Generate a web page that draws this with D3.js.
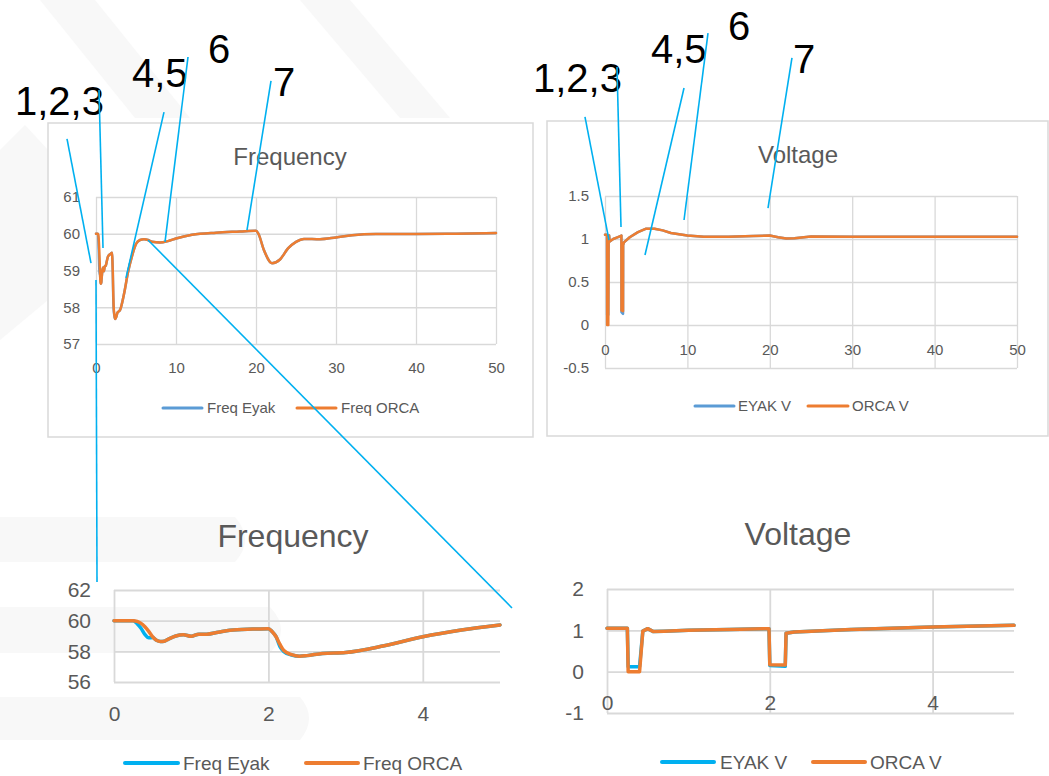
<!DOCTYPE html>
<html><head><meta charset="utf-8">
<script src="https://cdn.jsdelivr.net/npm/d3@7"></script>
<style>
html,body{margin:0;padding:0;background:#fff;}
svg{display:block;font-family:"Liberation Sans",Arial,sans-serif;}
</style></head>
<body>
<svg id="c" width="1049" height="776"></svg>
<script>
// ---------------- DATA ----------------
const freqTime = [0, 0.25, 0.3, 0.35, 0.4, 0.45, 0.5, 0.55, 0.6, 0.65, 0.7, 0.8, 0.9, 1.0, 1.1, 1.2, 1.35, 1.5, 1.8, 2.0, 2.05, 2.1, 2.15, 2.2, 2.3, 2.4, 2.5, 2.7, 3.0, 3.5, 4.0, 4.5, 5.0, 5.5, 6.0, 6.5, 7, 8, 9, 10, 12, 15, 18, 20, 20.3, 21, 22, 23, 24, 25, 26, 28, 30, 32, 35, 40, 45, 50];
const freqOrca = [60.0, 60.0, 59.95, 59.82, 59.6, 59.3, 58.95, 58.72, 58.64, 58.66, 58.78, 59.0, 59.08, 58.98, 59.12, 59.12, 59.25, 59.38, 59.45, 59.48, 59.28, 58.95, 58.45, 58.05, 57.78, 57.68, 57.72, 57.86, 57.92, 58.36, 58.95, 59.39, 59.72, 59.83, 59.85, 59.83, 59.78, 59.76, 59.8, 59.87, 59.97, 60.03, 60.06, 60.08, 60.0, 59.55, 59.2, 59.3, 59.6, 59.78, 59.86, 59.85, 59.9, 59.96, 59.99, 59.99, 60.0, 60.02];
const freqEyak = [60.0, 60.0, 59.8, 59.5, 59.1, 58.88, 58.9, 58.72, 58.64, 58.66, 58.78, 59.0, 59.08, 58.98, 59.12, 59.12, 59.25, 59.38, 59.45, 59.48, 59.28, 58.95, 58.3, 57.98, 57.76, 57.68, 57.72, 57.86, 57.92, 58.36, 58.95, 59.39, 59.72, 59.83, 59.85, 59.83, 59.78, 59.76, 59.8, 59.87, 59.97, 60.03, 60.06, 60.08, 60.0, 59.55, 59.2, 59.3, 59.6, 59.78, 59.86, 59.85, 59.9, 59.96, 59.99, 59.99, 60.0, 60.02];

const voltTime = [0, 0.25, 0.26, 0.4, 0.44, 0.5, 0.57, 0.7, 1.0, 1.5, 1.99, 2.0, 2.19, 2.2, 2.3, 3.0, 4.0, 5.0, 6.0, 7, 8, 10, 12, 15, 18, 20, 21, 22, 23, 25, 30, 40, 50];
const voltOrca = [1.05, 1.05, 0.0, 0.0, 0.98, 1.04, 0.97, 0.98, 1.0, 1.02, 1.04, 0.17, 0.16, 0.93, 0.96, 1.02, 1.08, 1.12, 1.12, 1.1, 1.07, 1.04, 1.025, 1.025, 1.035, 1.04, 1.02, 1.005, 1.01, 1.03, 1.025, 1.025, 1.025];
const voltEyak = [1.05, 1.05, 0.12, 0.12, 0.98, 1.04, 0.97, 0.98, 1.0, 1.02, 1.04, 0.15, 0.13, 0.93, 0.96, 1.02, 1.08, 1.12, 1.12, 1.1, 1.07, 1.04, 1.025, 1.025, 1.035, 1.04, 1.02, 1.005, 1.01, 1.03, 1.025, 1.025, 1.025];

const fullXTicks = [0, 10, 20, 30, 40, 50];
const zoomXTicks = [0, 2, 4];
const fullFreqTicks = [57, 58, 59, 60, 61];
const zoomFreqTicks = [56, 58, 60, 62];
const fullVoltTicks = [-0.5, 0, 0.5, 1, 1.5];
const zoomVoltTicks = [-1, 0, 1, 2];
const freqSeriesNames = ["Freq Eyak", "Freq ORCA"];
const voltSeriesNames = ["EYAK V", "ORCA V"];

// annotation callouts, in data coordinates of the chart they sit on
const annFreqLines = [[-3.625, 62.58, -0.625, 59.20], [0.375, 63.91, 0.875, 59.61], [8.5, 63.31, 3.75, 58.80], [11.5, 64.81, 8.625, 59.78], [21.875, 64.16, 18.875, 60.10]];
const annFreqLabels = [["1,2,3", -10.125, 63.23], ["4,5", 4.5, 63.99], ["6", 14, 64.65], ["7", 22.125, 63.75]];
const annVoltLines = [[-2.43, 2.419, 0.485, 0.988], [1.456, 3.0, 1.942, 1.14], [9.59, 2.756, 4.854, 0.814], [12.5, 3.395, 9.59, 1.221], [22.69, 3.105, 19.78, 1.36]];
const annVoltLabels = [["1,2,3", -8.74, 2.709], ["4,5", 5.58, 3.047], ["6", 14.93, 3.314], ["7", 22.82, 2.93]];

// ---------------- DRAW ----------------
const svg = d3.select("#c");
const BLUE_XL = "#5b9bd5", ORANGE = "#ed7d31", CYAN = "#00b0f0", GRID = "#d9d9d9", TXT = "#595959";
const fmt = d => String(d);

// faint background watermark
const wm = svg.append("g").attr("fill", "#f8f8f8");
[
 "M40,0 L95,0 L190,118 L135,118 Z",
 "M300,0 L350,0 L450,118 L400,118 Z",
 "M0,150 L25,125 L48,150 L48,300 L0,340 Z",
 "M0,517 L235,517 Q255,540 235,562 L0,562 Z",
 "M0,607 L270,607 Q292,630 270,653 L0,653 Z",
 "M0,697 L300,697 Q318,718 300,740 L0,740 Z"
].forEach(p => wm.append("path").attr("d", p));

function chart(opt) {
  const g = svg.append("g");
  const x = d3.scaleLinear().domain(opt.xd).range(opt.xr);
  const y = d3.scaleLinear().domain(opt.yd).range(opt.yr);
  if (opt.box) g.append("rect").attr("x", opt.box[0]).attr("y", opt.box[1]).attr("width", opt.box[2]).attr("height", opt.box[3]).attr("fill", "#fff").attr("stroke", GRID).attr("stroke-width", 1.5);
  // gridlines
  g.append("g").attr("transform", `translate(${opt.xr[0]},0)`)
    .call(d3.axisLeft(y).tickValues(opt.yt).tickSize(-(opt.xr[1] - opt.xr[0])).tickFormat(""))
    .call(a => a.select(".domain").remove())
    .call(a => a.selectAll("line").attr("stroke", GRID).attr("stroke-width", opt.gw));
  g.append("g").attr("transform", `translate(0,${opt.yr[0]})`)
    .call(d3.axisBottom(x).tickValues(opt.xt).tickSize(-(opt.yr[0] - opt.yr[1])).tickFormat(""))
    .call(a => a.select(".domain").remove())
    .call(a => a.selectAll("line").attr("stroke", GRID).attr("stroke-width", opt.gw));
  // labels
  g.append("g").attr("transform", `translate(${opt.xr[0]},0)`)
    .call(d3.axisLeft(y).tickValues(opt.yt).tickSize(0).tickPadding(opt.yp).tickFormat(fmt))
    .call(a => a.select(".domain").remove())
    .call(a => a.selectAll("text").attr("fill", TXT).attr("font-size", opt.fs).attr("font-family", "Liberation Sans, Arial, sans-serif"));
  g.append("g").attr("transform", `translate(0,${y(opt.xAxisAt)})`)
    .call(d3.axisBottom(x).tickValues(opt.xt).tickSize(0).tickPadding(opt.xp).tickFormat(fmt))
    .call(a => a.select(".domain").remove())
    .call(a => a.selectAll("text").attr("fill", TXT).attr("font-size", opt.fs).attr("font-family", "Liberation Sans, Arial, sans-serif"));
  // title
  g.append("text").attr("x", opt.title[1]).attr("y", opt.title[2]).attr("text-anchor", "middle")
    .attr("fill", TXT).attr("font-size", opt.title[3]).text(opt.title[0]);
  // series
  const xmax = opt.xd[1];
  opt.series.forEach((s, i) => {
    const pts = opt.t.map((t, k) => [t, s.v[k]]).filter(p => p[0] <= xmax);
    g.append("path").datum(pts)
      .attr("fill", "none").attr("stroke", s.c).attr("stroke-width", opt.lw)
      .attr("stroke-linejoin", "round").attr("stroke-linecap", "round")
      .attr("d", d3.line().x(p => x(p[0])).y(p => y(p[1])).curve(opt.curve));
  });
  // legend
  opt.series.forEach((s, i) => {
    const L = opt.legend[i];
    g.append("line").attr("x1", L[0]).attr("x2", L[1]).attr("y1", opt.legendY).attr("y2", opt.legendY)
      .attr("stroke", s.c).attr("stroke-width", opt.lw + 0.5).attr("stroke-linecap", "round");
    g.append("text").attr("x", L[2]).attr("y", opt.legendY).attr("dy", "0.35em")
      .attr("fill", TXT).attr("font-size", opt.lfs).text(s.name);
  });
  return {x, y};
}

const tl = chart({
  box: [48, 123, 485, 314], xd: [0, 50], xr: [96, 496], yd: [57, 61], yr: [344, 197],
  xt: fullXTicks, yt: fullFreqTicks, gw: 1.3, yp: 16, xp: 18, xAxisAt: 57, fs: 15,
  title: ["Frequency", 290, 165, 24], t: freqTime, lw: 2.5, curve: d3.curveMonotoneX,
  series: [{name: freqSeriesNames[0], v: freqEyak, c: BLUE_XL}, {name: freqSeriesNames[1], v: freqOrca, c: ORANGE}],
  legend: [[163, 202, 207], [297, 336, 341]], legendY: 408, lfs: 15
});
const tr = chart({
  box: [547, 121, 501, 315], xd: [0, 50], xr: [605, 1017], yd: [-0.5, 1.5], yr: [368, 196],
  xt: fullXTicks, yt: fullVoltTicks, gw: 1.3, yp: 16, xp: 19, xAxisAt: 0, fs: 15,
  title: ["Voltage", 798, 163, 24], t: voltTime, lw: 2.5, curve: d3.curveLinear,
  series: [{name: voltSeriesNames[0], v: voltEyak, c: BLUE_XL}, {name: voltSeriesNames[1], v: voltOrca, c: ORANGE}],
  legend: [[695, 734, 738], [808, 848, 852]], legendY: 406, lfs: 15
});
const bl = chart({
  xd: [0, 5], xr: [114, 500], yd: [56, 62], yr: [682, 590],
  xt: zoomXTicks, yt: zoomFreqTicks, gw: 1.8, yp: 23, xp: 24, xAxisAt: 56, fs: 21,
  title: ["Frequency", 293, 547, 32], t: freqTime, lw: 3.5, curve: d3.curveMonotoneX,
  series: [{name: freqSeriesNames[0], v: freqEyak, c: CYAN}, {name: freqSeriesNames[1], v: freqOrca, c: ORANGE}],
  legend: [[125, 178, 183], [306, 358, 363]], legendY: 763, lfs: 19
});
const br = chart({
  xd: [0, 5], xr: [607, 1014], yd: [-1, 2], yr: [713, 589],
  xt: zoomXTicks, yt: zoomVoltTicks, gw: 1.8, yp: 23, xp: 23, xAxisAt: 0, fs: 21,
  title: ["Voltage", 798, 545, 32], t: voltTime, lw: 3.5, curve: d3.curveLinear,
  series: [{name: voltSeriesNames[0], v: voltEyak, c: CYAN}, {name: voltSeriesNames[1], v: voltOrca, c: ORANGE}],
  legend: [[662, 714, 720], [813, 865, 870]], legendY: 762, lfs: 19
});

// annotations
const ann = svg.append("g");
function annLines(lines, c) {
  ann.selectAll(null).data(lines).join("line")
    .attr("x1", d => c.x(d[0])).attr("y1", d => c.y(d[1]))
    .attr("x2", d => c.x(d[2])).attr("y2", d => c.y(d[3]))
    .attr("stroke", CYAN).attr("stroke-width", 1.6);
}
function annLabels(labels, c) {
  ann.selectAll(null).data(labels).join("text")
    .attr("x", d => c.x(d[1])).attr("y", d => c.y(d[2]))
    .attr("font-size", 40).attr("fill", "#000").text(d => d[0]);
}
annLabels(annFreqLabels, tl);
annLabels(annVoltLabels, tr);
annLines(annFreqLines, tl);
annLines(annVoltLines, tr);
// callouts linking the full-range frequency chart to its zoomed view
ann.append("line").attr("x1", tl.x(6.5)).attr("y1", tl.y(59.83)).attr("x2", bl.x(5.155)).attr("y2", bl.y(60.83))
  .attr("stroke", CYAN).attr("stroke-width", 1.6);
ann.append("line").attr("x1", tl.x(0)).attr("y1", tl.y(58.74)).attr("x2", bl.x(-0.22)).attr("y2", bl.y(62.52))
  .attr("stroke", CYAN).attr("stroke-width", 1.6);
</script>
</body></html>
